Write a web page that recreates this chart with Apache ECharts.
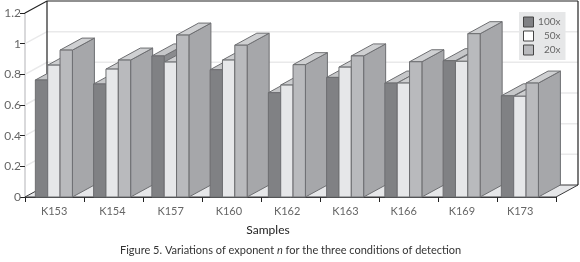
<!DOCTYPE html>
<html>
<head>
<meta charset="utf-8">
<style>html,body{margin:0;padding:0;background:#fff}#c{width:580px;height:262px}</style>
<script src="https://cdn.jsdelivr.net/npm/echarts@6/dist/echarts.min.js"></script>
</head>
<body>
<div id="c"></div>
<script>
const categories = ['K153','K154','K157','K160','K162','K163','K166','K169','K173'];
const values100x = [0.763,0.737,0.92,0.83,0.68,0.78,0.743,0.889,0.66];
const values50x  = [0.86,0.834,0.88,0.893,0.73,0.847,0.743,0.885,0.657];
const values20x  = [0.958,0.893,1.056,0.99,0.863,0.92,0.882,1.065,0.743];
const yTicks = [0,0.2,0.4,0.6,0.8,1,1.2];

const DX = 22, DY = 12;
const FONT = 'Lato';
const looks = [
  {front:'#808184', top:'#c6c7c9', side:'#8a8b8e', stroke:'#6d6e71', offset:-1.52},
  {front:'#e6e7e9', top:'#cdced0', side:'#a6a7aa', stroke:'#6d6e71', offset:-0.52},
  {front:'#b9babd', top:'#cfd0d2', side:'#a6a7aa', stroke:'#6d6e71', offset:0.48}
];

function barSeries(name, values, idx) {
  const look = looks[idx];
  return {
    name, type:'custom', z:3, xAxisIndex:1, yAxisIndex:1,
    data: values.map((v,i)=>[i,v]),
    encode:{x:0,y:1},
    itemStyle:{color:look.front},
    renderItem(params, api){
      const cat = api.value(0);
      const base = api.coord([cat,0]);
      const top = api.coord([cat,api.value(1)]);
      const w = api.size([1,0])[0]*0.212;
      const x0 = base[0] + look.offset*w;
      const x1 = x0 + w;
      const y0 = base[1], y1 = top[1];
      const st = (fill)=>({fill, stroke:look.stroke, lineWidth:1});
      const z2 = cat*10 + idx;
      return {type:'group', children:[
        {type:'polygon', z2, shape:{points:[[x1,y0],[x1+DX,y0-DY],[x1+DX,y1-DY],[x1,y1]]}, style:st(look.side)},
        {type:'polygon', z2, shape:{points:[[x0,y1],[x0+DX,y1-DY],[x1+DX,y1-DY],[x1,y1]]}, style:st(look.top)},
        {type:'rect', z2, shape:{x:x0,y:y1,width:w,height:y0-y1}, style:st(look.front)}
      ]};
    }
  };
}

const wallSeries = {
  name:'walls', type:'custom', z:1, silent:true, xAxisIndex:0, yAxisIndex:0,
  data: yTicks.map(t=>[0,t]),
  encode:{x:0,y:1},
  renderItem(params, api){
    const t = api.value(1);
    const g = params.coordSys;
    const L = g.x, R = g.x+g.width;
    const y = api.coord([0,t])[1];
    const kids = [];
    if (t === 0) {
      kids.push({type:'polygon', z2:0, shape:{points:[[L,y],[L+DX,y-DY],[R+DX,y-DY],[R,y]]}, style:{fill:'#e6e7e9', stroke:'#3a3a3c', lineWidth:1}});
    } else if (t === 1.2) {
      kids.push({type:'polyline', z2:2, shape:{points:[[L,y],[L+DX,y-DY],[R+DX,y-DY]]}, style:{fill:'none', stroke:'#222', lineWidth:1.2}});
    } else {
      kids.push({type:'polyline', z2:1, shape:{points:[[L,y],[L+DX,y-DY],[R+DX,y-DY]]}, style:{fill:'none', stroke:'#e9e9ea', lineWidth:1.5}});
    }
    if (t === 1.2) {
      const yb = api.coord([0,0])[1];
      kids.push({type:'line', z2:2, shape:{x1:L+DX,y1:y-DY,x2:L+DX,y2:yb-DY}, style:{stroke:'#222', lineWidth:1.2}});
      kids.push({type:'line', z2:2, shape:{x1:R+DX,y1:y-DY,x2:R+DX,y2:yb-DY}, style:{stroke:'#222', lineWidth:1.2}});
    }
    return {type:'group', children:kids};
  }
};

const chart = echarts.init(document.getElementById('c'), null, {renderer:'canvas'});
chart.setOption({
  animation:false,
  backgroundColor:'#fff',
  textStyle:{fontFamily:FONT},
  grid:[
    {left:25, width:531, top:13, bottom:65},
    {left:25, width:524.25, top:13, bottom:65}
  ],
  title:{
    text:'{a|Figure 5. Variations of exponent }{i|n}{a| for the three conditions of detection}',
    left:120, top:245, padding:0,
    textStyle:{fontWeight:'normal',rich:{
      a:{fontFamily:FONT,fontSize:11,fontWeight:'normal',color:'#333'},
      i:{fontFamily:FONT,fontSize:11,fontWeight:'normal',color:'#333',fontStyle:'italic'}
    }}
  },
  legend:{
    left:519, top:12, orient:'vertical',
    padding:[4,5,4,4], itemGap:2,
    itemWidth:10, itemHeight:10,
    backgroundColor:'#e6e7e8',
    data:[
      {name:'100x', icon:'rect', itemStyle:{color:'#808184',borderColor:'#444',borderWidth:1}},
      {name:'50x', icon:'rect', itemStyle:{color:'#ffffff',borderColor:'#444',borderWidth:1}},
      {name:'20x', icon:'rect', itemStyle:{color:'#b9babd',borderColor:'#444',borderWidth:1}}
    ],
    formatter:n=>'{a|'+n+'}',
    textStyle:{rich:{a:{fontFamily:FONT,fontSize:10,color:'#666',width:22,align:'right',height:12,lineHeight:12}}}
  },
  xAxis:[
    {
      type:'category', gridIndex:0, data:categories,
      name:'Samples', nameLocation:'middle', nameGap:27,
      nameTextStyle:{fontFamily:FONT,fontSize:12,color:'#222',padding:[0,45,0,0]},
      axisLine:{lineStyle:{color:'#3a3a3c',width:1}},
      axisTick:{show:true,length:5,lineStyle:{color:'#222'}},
      axisLabel:{show:false},
      splitLine:{show:false}
    },
    {
      type:'category', gridIndex:1, data:categories,
      axisLine:{show:false},
      axisTick:{show:false},
      axisLabel:{fontFamily:FONT,fontSize:11,color:'#666',margin:9},
      splitLine:{show:false}
    }
  ],
  yAxis:[
    {
      type:'value', gridIndex:0, min:0, max:1.2, interval:0.2,
      axisLine:{show:true,lineStyle:{color:'#d9d9db',width:2}},
      axisTick:{show:true,length:5,lineStyle:{color:'#222'}},
      axisLabel:{fontFamily:FONT,fontSize:12,color:'#666',margin:4,padding:[3,0,0,0]},
      splitLine:{show:false}
    },
    {
      type:'value', gridIndex:1, min:0, max:1.2, interval:0.2,
      axisLine:{show:false}, axisTick:{show:false}, axisLabel:{show:false}, splitLine:{show:false}
    }
  ],
  series:[
    wallSeries,
    barSeries('100x',values100x,0),
    barSeries('50x',values50x,1),
    barSeries('20x',values20x,2)
  ]
});
</script>
</body>
</html>
